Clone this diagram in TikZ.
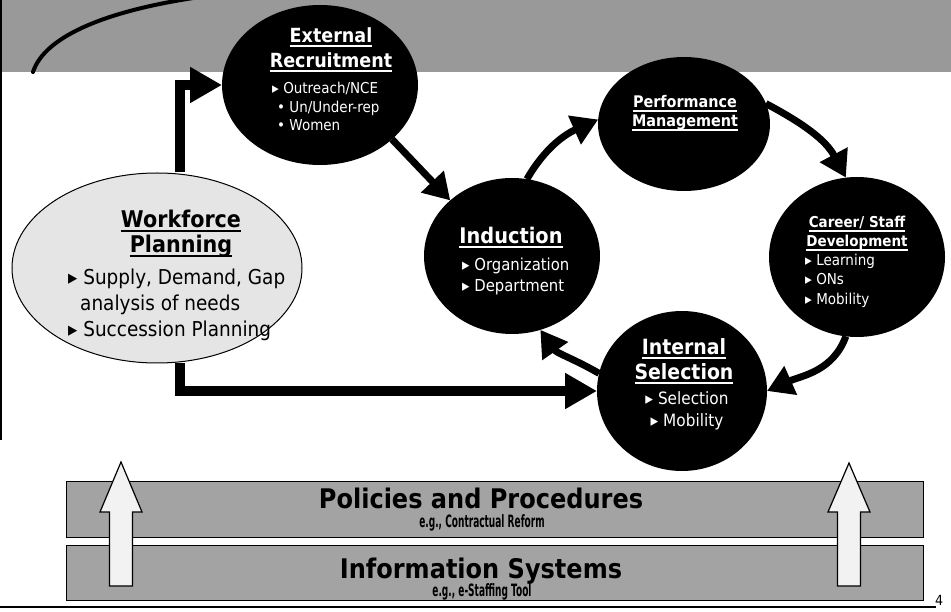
\documentclass[tikz,border=0pt]{standalone}
\usepackage{fontspec}
\setmainfont{DejaVu Sans}[FakeStretch=0.9]
\newfontfamily\barfont{DejaVu Sans}[FakeStretch=0.89]
\newfontfamily\barsmallfont{DejaVu Sans}[FakeStretch=0.53]
\usetikzlibrary{arrows.meta,shapes.geometric}

\definecolor{bandgray}{gray}{0.6}
\definecolor{bargray}{gray}{0.64}
\definecolor{wpgray}{gray}{0.9}
\definecolor{upgray}{gray}{0.95}

% underline drawn as a rule in the current text colour
\newcommand\undr[2][1.6pt]{\setbox0=\hbox{#2}\leavevmode\rlap{\rule[-3.6pt]{\wd0}{#1}}\box0}
\newcommand\fs[1]{\fontsize{#1}{#1}\selectfont}

\begin{document}
\begin{tikzpicture}[x=1pt,y=1pt,
  bubble/.style={ellipse, fill=black, draw=none, inner sep=0pt, outer sep=0pt},
  hd/.style={text=white, anchor=base, inner sep=0pt},
  item/.style={text=white, anchor=base west, inner sep=0pt},
  itemc/.style={text=white, anchor=base, inner sep=0pt},
  wptext/.style={text=black, anchor=base west, inner sep=0pt, font=\fs{20.5}},
  flow/.style={line width=7pt, -{Triangle[length=26pt,width=30pt]}},
  bigflow/.style={line width=10pt, -{Triangle[length=32pt,width=34pt]}},
  bar/.style={rectangle, draw=black, line width=0.8pt, fill=bargray,
    minimum width=857pt, inner sep=0pt},
  bartitle/.style={anchor=base, inner sep=0pt, font=\barfont\bfseries\fs{27}},
  barsub/.style={anchor=base, inner sep=0pt, font=\barsmallfont\bfseries\fs{17}},
  uparrow/.style={fill=upgray, draw=black, line width=1.2pt, line join=miter}
]
\useasboundingbox (0,0) rectangle (951,-612);
\clip (0,0) rectangle (951,-612);
\fill[white] (0,0) rectangle (951,-612);

% top band with its swoosh
\fill[bandgray] (0,0) rectangle (951,-72);
\draw[line width=4pt, line cap=round] (33,-72) .. controls (45,-35) and (110,-10) .. (200,3);
\draw[line width=1.2pt] (1,0) -- (1,-440);

% bottom layers
\node[bar, minimum height=56pt] (pol) at (494.5,-509) {};
\node[bar, minimum height=55pt] (inf) at (494.5,-572.5) {};
\node[bartitle] (pol-t) at (481,-508) {Policies and Procedures};
\node[barsub] (pol-s) at (482,-527) {e.g., Contractual Reform};
\node[bartitle] (inf-t) at (481,-578) {Information Systems};
\node[barsub] (inf-s) at (482,-596) {e.g., e-Staffing Tool};

\draw[uparrow] (109.5,-586) -- (109.5,-512) -- (100,-512) -- (121,-462)
  -- (142,-512) -- (132.5,-512) -- (132.5,-586) -- cycle;
\draw[uparrow] (837.5,-586) -- (837.5,-512) -- (828,-512) -- (849,-463)
  -- (870,-512) -- (860.5,-512) -- (860.5,-586) -- cycle;

\draw[line width=2pt] (0,-607) -- (936,-607);
\node[anchor=base, inner sep=0pt, font=\fs{14}] (pg) at (939,-605) {4};

% process bubbles
\node[ellipse, fill=wpgray, draw=black, line width=1pt, inner sep=0pt,
  minimum width=290pt, minimum height=190pt] (wp) at (157,-268) {};
\node[bubble, minimum width=196pt, minimum height=160pt] (er) at (320,-85) {};
\node[bubble, minimum width=172pt, minimum height=134pt] (pm) at (684,-124) {};
\node[bubble, minimum width=176pt, minimum height=156pt] (ind) at (512,-256) {};
\node[bubble, minimum width=176pt, minimum height=160pt] (csd) at (857,-257) {};
\node[bubble, minimum width=170pt, minimum height=160pt] (is) at (682,-391) {};

% connectors
\draw[bigflow] ([xshift=23pt]wp.north) |- (er.west);
\draw[bigflow] ([xshift=23pt]wp.south) |- (is.west);
\draw[flow] (er.-37) -- (ind.138);
\draw[flow] (ind.79) to[out=60,in=204] (pm.177);
\draw[flow] (pm.14) to[out=-28,in=118] (csd.98);
\draw[flow] (csd.-98) to[out=-110,in=24] (is.0);
\draw[flow] (is.168) to[out=150,in=-55] (ind.-69);

% Workforce Planning
\node[anchor=base, inner sep=0pt, font=\bfseries\fs{23}] (wp-h1) at (181,-228) {\undr[2pt]{Workforce}};
\node[anchor=base, inner sep=0pt, font=\bfseries\fs{23}] (wp-h2) at (181,-253) {\undr[2pt]{Planning}};
\node[wptext] (wp-b1) at (68,-285) {▸ Supply, Demand, Gap};
\node[wptext] (wp-b2) at (80,-311) {analysis of needs};
\node[wptext] (wp-b3) at (68,-337) {▸ Succession Planning};

% External Recruitment
\node[hd, font=\bfseries\fs{19.5}] (er-h1) at (331,-43) {\undr{External}};
\node[hd, font=\bfseries\fs{19.5}] (er-h2) at (331,-68) {\undr{Recruitment}};
\node[item, font=\fs{15}] (er-b1) at (272,-94) {▸ Outreach/NCE};
\node[item, font=\fs{15}] (er-b2) at (277,-113) {• Un/Under-rep};
\node[item, font=\fs{15}] (er-b3) at (277,-131) {• Women};

% Performance Management
\node[hd, font=\bfseries\fs{16}] (pm-h1) at (685,-108) {\undr[1.4pt]{Performance}};
\node[hd, font=\bfseries\fs{16}] (pm-h2) at (685,-127) {\undr[1.4pt]{Management}};

% Induction
\node[hd, font=\bfseries\fs{21.5}] (ind-h) at (511,-244) {\undr[1.8pt]{Induction}};
\node[item, font=\fs{16.5}] (ind-b1) at (462,-271) {▸ Organization};
\node[item, font=\fs{16.5}] (ind-b2) at (462,-292) {▸ Department};

% Career / Staff Development
\node[hd, font=\bfseries\fs{15}] (csd-h1) at (857,-228) {\undr[1.4pt]{Career/ Staff}};
\node[hd, font=\bfseries\fs{15}] (csd-h2) at (857,-247) {\undr[1.4pt]{Development}};
\node[item, font=\fs{15}] (csd-b1) at (805,-266) {▸ Learning};
\node[item, font=\fs{15}] (csd-b2) at (805,-285) {▸ ONs};
\node[item, font=\fs{15}] (csd-b3) at (805,-305) {▸ Mobility};

% Internal Selection
\node[hd, font=\bfseries\fs{21}] (is-h1) at (684,-355) {\undr[1.8pt]{Internal}};
\node[hd, font=\bfseries\fs{21}] (is-h2) at (684,-380) {\undr[1.8pt]{Selection}};
\node[itemc, font=\fs{17}] (is-b1) at (687,-405) {▸ Selection};
\node[itemc, font=\fs{17}] (is-b2) at (687,-426) {▸ Mobility};
\end{tikzpicture}
\end{document}
